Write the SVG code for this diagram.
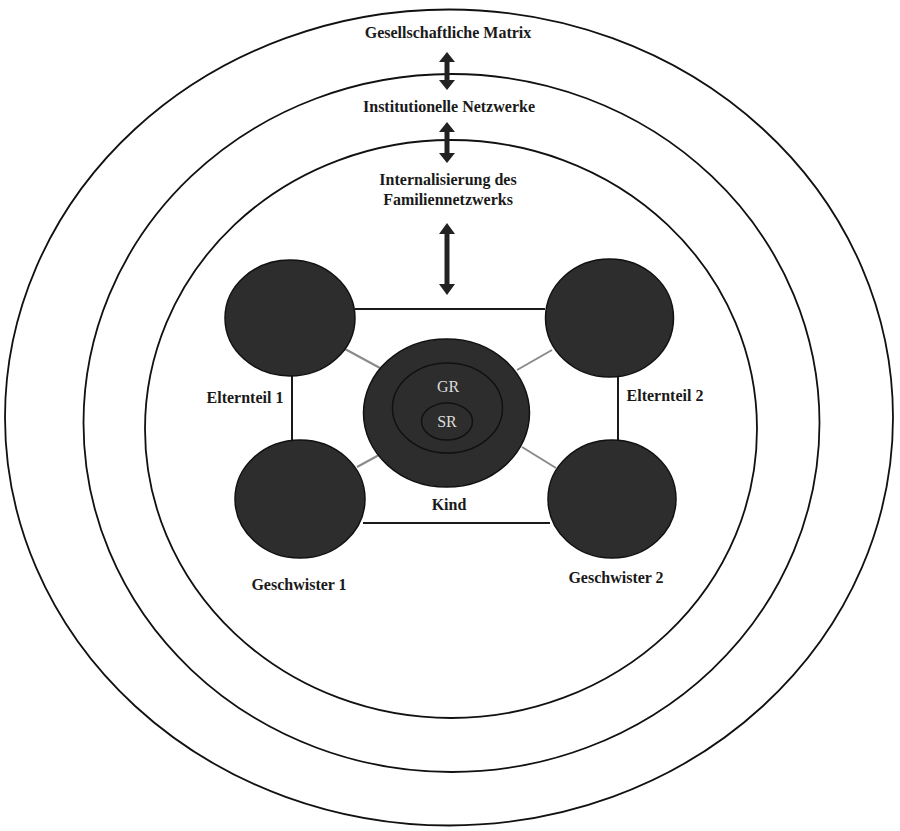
<svg xmlns="http://www.w3.org/2000/svg" width="900" height="831" viewBox="0 0 900 831">
<style>
.ring{fill:none;stroke:#111;stroke-width:1.8}
.node{fill:#2d2d2d;stroke:#111;stroke-width:1.5}
.lbl{font-family:'Liberation Serif','DejaVu Serif',serif;font-size:16px;font-weight:bold;fill:#1a1a1a;text-anchor:middle}
.in{font-family:'Liberation Serif','DejaVu Serif',serif;font-size:16px;fill:#dcdcdc;text-anchor:middle}
.edge{stroke:#1a1a1a;stroke-width:2;fill:none}
.diag{stroke:#8a8a8a;stroke-width:2;fill:none}
.arr{fill:#222}
</style>
<rect width="900" height="831" fill="#fff"/>
<g id="rings">
<ellipse class="ring" cx="449" cy="417.5" rx="444" ry="408"/>
<ellipse class="ring" cx="451.5" cy="423" rx="368" ry="349"/>
<ellipse class="ring" cx="451" cy="429" rx="306" ry="289"/>
</g>
<g id="connectors">
<line class="edge" x1="355" y1="309" x2="545" y2="309"/>
<line class="edge" x1="363" y1="523" x2="550" y2="523"/>
<line class="edge" x1="292" y1="375" x2="292" y2="440"/>
<line class="edge" x1="618" y1="377" x2="618" y2="440"/>
<line class="diag" x1="345" y1="349" x2="380" y2="368"/>
<line class="diag" x1="357" y1="467" x2="379" y2="455"/>
<line class="diag" x1="517" y1="370" x2="552" y2="350"/>
<line class="diag" x1="522" y1="447" x2="556" y2="468"/>
<path class="arr" d="M447,52 L455,62 L449.5,62 L449.5,80 L455,80 L447,90 L439,80 L444.5,80 L444.5,62 L439,62 Z"/>
<path class="arr" d="M447,122 L455,132 L449.5,132 L449.5,153 L455,153 L447,163 L439,153 L444.5,153 L444.5,132 L439,132 Z"/>
<path class="arr" d="M447,223 L455,234 L449.5,234 L449.5,284 L455,284 L447,295 L439,284 L444.5,284 L444.5,234 L439,234 Z"/>
</g>
<g id="titles">
<text class="lbl" x="448" y="38">Gesellschaftliche Matrix</text>
<text class="lbl" x="449" y="112">Institutionelle Netzwerke</text>
<text class="lbl" x="448" y="185">Internalisierung des</text>
<text class="lbl" x="448" y="205">Familiennetzwerks</text>
</g>
<g id="eltern1">
<ellipse class="node" cx="290" cy="318" rx="65" ry="58"/>
<text class="lbl" x="245" y="403">Elternteil 1</text>
</g>
<g id="eltern2">
<ellipse class="node" cx="609.5" cy="318" rx="64" ry="59"/>
<text class="lbl" x="665" y="401">Elternteil 2</text>
</g>
<g id="geschwister1">
<ellipse class="node" cx="300" cy="499" rx="65" ry="59"/>
<text class="lbl" x="299" y="590">Geschwister 1</text>
</g>
<g id="geschwister2">
<ellipse class="node" cx="612" cy="499" rx="64" ry="59"/>
<text class="lbl" x="616" y="583">Geschwister 2</text>
</g>
<g id="kind">
<ellipse class="node" cx="446.5" cy="413" rx="83" ry="74"/>
<ellipse class="node" cx="447.5" cy="408" rx="55" ry="45" stroke-width="2"/>
<ellipse class="node" cx="447" cy="421.5" rx="25.5" ry="18.5" stroke-width="2"/>
<text class="in" x="448" y="392">GR</text>
<text class="in" x="447" y="427">SR</text>
<text class="lbl" x="449" y="510">Kind</text>
</g>
</svg>
